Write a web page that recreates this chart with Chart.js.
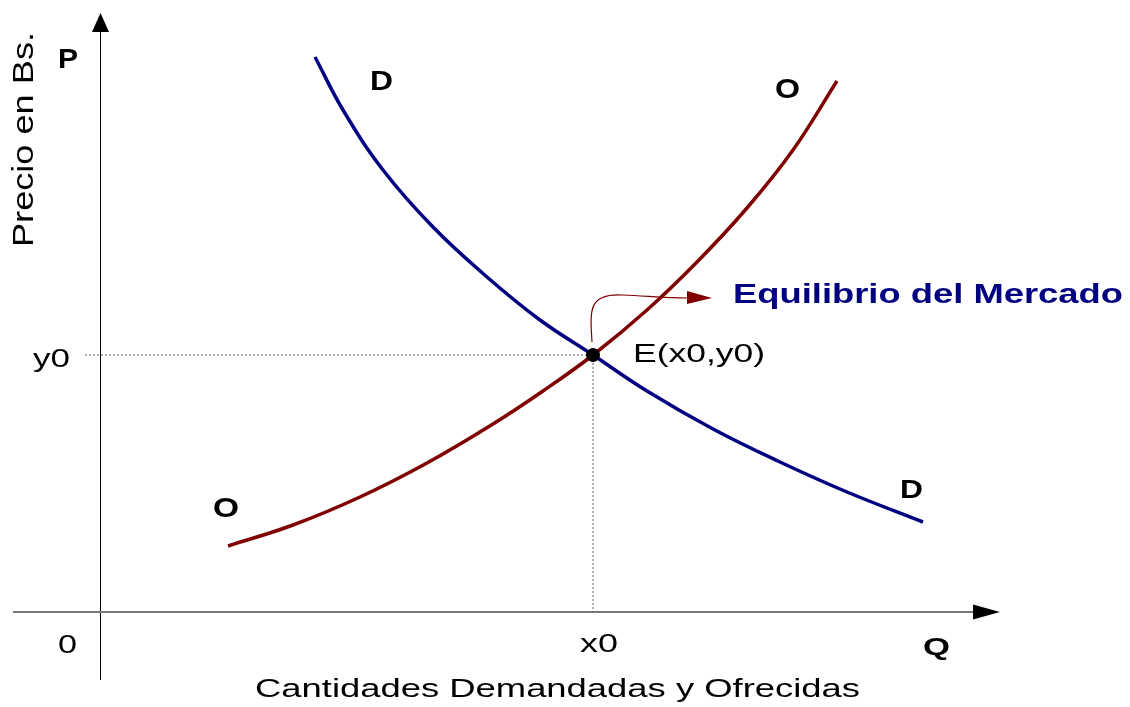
<!DOCTYPE html>
<html>
<head>
<meta charset="utf-8">
<script src="https://cdn.jsdelivr.net/npm/chart.js@4/dist/chart.umd.min.js"></script>
<style>
  html, body { margin: 0; padding: 0; background: #fff; }
  canvas { display: block; }
</style>
</head>
<body>
<canvas id="myChart" width="1130" height="707"></canvas>
<script>
// demand curve D (quantity, price)
const demandQ = [215, 243, 283, 333, 387, 440, 493, 547, 613, 680, 747, 823];
const demandP = [555, 502, 442, 385, 335, 292, 257, 221, 183, 150, 120, 90];
// supply curve O
const supplyQ = [128, 193, 260, 327, 393, 443, 493, 547, 597, 647, 693, 737];
const supplyP = [66, 87, 115, 149, 188, 221, 257, 302, 350, 404, 462, 531];
// equilibrium
const x0 = 493;
const y0 = 257;
const xTickLabels = ['0', 'x0'];
const yTickLabels = ['y0'];

const ctx = document.getElementById("myChart");

function pts(xs, ys) {
  return xs.map((x, i) => ({ x: x, y: ys[i] }));
}

function stretchText(c, text, left, base, font, width, color) {
  c.save();
  c.font = font;
  c.fillStyle = color || '#000';
  c.textAlign = 'left';
  c.textBaseline = 'alphabetic';
  let w = c.measureText(text).width;
  c.translate(left, base);
  c.scale(width / w, 1);
  c.fillText(text, 0, 0);
  c.restore();
}

const FONT = '"Liberation Sans", Arial, sans-serif';

const axesPlugin = {
  id: 'axes',
  beforeDatasetsDraw(chart) {
    const c = chart.ctx;
    const sx = chart.scales.x, sy = chart.scales.y;
    const ox = Math.round(sx.getPixelForValue(0)) + 0.5;
    const oy = Math.round(sy.getPixelForValue(0));
    c.save();
    c.strokeStyle = '#000';
    c.fillStyle = '#000';
    c.lineWidth = 1;
    // y axis
    c.beginPath();
    c.moveTo(ox, oy + 68);
    c.lineTo(ox, 30);
    c.stroke();
    c.beginPath();
    c.moveTo(ox, 13);
    c.lineTo(ox - 8.5, 32);
    c.lineTo(ox + 8.5, 32);
    c.closePath();
    c.fill();
    // x axis
    c.strokeStyle = '#777';
    c.lineWidth = 2;
    c.beginPath();
    c.moveTo(13, oy);
    c.lineTo(975, oy);
    c.stroke();
    c.beginPath();
    c.moveTo(1000, oy);
    c.lineTo(973, oy - 7.5);
    c.lineTo(973, oy + 7.5);
    c.closePath();
    c.fill();
    c.restore();
  },
  afterDatasetsDraw(chart) {
    const c = chart.ctx;
    const sx = chart.scales.x, sy = chart.scales.y;
    const ex = sx.getPixelForValue(x0), ey = sy.getPixelForValue(y0);

    // pointer to "Equilibrio del Mercado"
    c.save();
    c.strokeStyle = '#800000';
    c.fillStyle = '#800000';
    c.lineWidth = 1.2;
    c.beginPath();
    c.moveTo(ex - 1, ey - 13);
    c.bezierCurveTo(ex - 3, ey - 45, ex - 5, ey - 62, ex + 30, ey - 60);
    c.bezierCurveTo(ex + 55, ey - 59, ex + 70, ey - 57, ex + 95, ey - 57);
    c.stroke();
    c.beginPath();
    c.moveTo(ex + 119, ey - 57);
    c.lineTo(ex + 94, ey - 64);
    c.lineTo(ex + 94, ey - 51);
    c.closePath();
    c.fill();
    c.restore();

    // text
    stretchText(c, 'P', 58, 68, 'bold 28px ' + FONT, 20);
    stretchText(c, 'D', 370, 90, 'bold 28px ' + FONT, 23);
    stretchText(c, 'O', 775, 98, 'bold 27px ' + FONT, 25);
    stretchText(c, 'O', 213, 517, 'bold 27px ' + FONT, 26);
    stretchText(c, 'D', 900, 498, 'bold 26px ' + FONT, 23);
    stretchText(c, 'Equilibrio del Mercado', 733, 303, 'bold 28px ' + FONT, 390, '#000080');
    stretchText(c, 'E(x0,y0)', 633, 362, '26px ' + FONT, 132);
    stretchText(c, yTickLabels[0], 33, 367, '25px ' + FONT, 37);
    stretchText(c, xTickLabels[0], 58, 653, '25px ' + FONT, 19);
    stretchText(c, xTickLabels[1], 580, 652, '25px ' + FONT, 38);
    stretchText(c, 'Q', 923, 655, 'bold 24px ' + FONT, 27);
    stretchText(c, 'Cantidades Demandadas y Ofrecidas', 255, 697, '26px ' + FONT, 605);

    // rotated y title
    c.save();
    c.translate(33, 247);
    c.rotate(-Math.PI / 2);
    stretchText(c, 'Precio en Bs.', 0, 0, '29px ' + FONT, 215);
    c.restore();
  }
};

let chartData = {
  datasets: [
    {
      label: 'E',
      data: [{ x: x0, y: y0 }],
      pointRadius: 6.5,
      pointBackgroundColor: '#000',
      pointBorderColor: '#000',
      showLine: false,
      order: 0
    },
    {
      label: 'D',
      data: pts(demandQ, demandP),
      borderColor: '#000080',
      borderWidth: 3.5,
      pointRadius: 0,
      showLine: true,
      tension: 0.4,
      order: 1
    },
    {
      label: 'O',
      data: pts(supplyQ, supplyP),
      borderColor: '#800000',
      borderWidth: 3.5,
      pointRadius: 0,
      showLine: true,
      tension: 0.4,
      order: 1
    },
    {
      label: 'guia y0',
      data: [{ x: -15, y: y0 }, { x: x0, y: y0 }],
      borderColor: '#666',
      borderWidth: 1,
      borderDash: [2, 2],
      pointRadius: 0,
      showLine: true,
      order: 2
    },
    {
      label: 'guia x0',
      data: [{ x: x0, y: y0 }, { x: x0, y: 0 }],
      borderColor: '#666',
      borderWidth: 1,
      borderDash: [2, 2],
      pointRadius: 0,
      showLine: true,
      order: 2
    }
  ]
};

let configData = {
  type: "scatter",
  data: chartData,
  options: {
    responsive: false,
    animation: false,
    events: [],
    layout: { padding: 0, autoPadding: false },
    plugins: {
      legend: { display: false },
      tooltip: { enabled: false }
    },
    scales: {
      x: { type: 'linear', min: -100, max: 1030, display: false },
      y: { type: 'linear', min: -95, max: 612, display: false }
    }
  },
  plugins: [axesPlugin]
};

new Chart(ctx, configData);
</script>
</body>
</html>
